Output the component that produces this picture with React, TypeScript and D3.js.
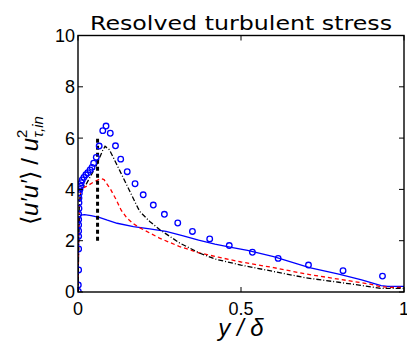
import React from 'react';
import * as d3 from 'd3';

const xTicks = [0, 0.5, 1];
const xTickLabels = ['0', '0.5', '1'];
const yTicks = [0, 2, 4, 6, 8, 10];
const yTickLabels = ['0', '2', '4', '6', '8', '10'];

const titleText = 'Resolved turbulent stress';

// DNS reference (blue circles)
const circleX = [0.001, 0.001, 0.002, 0.002, 0.002, 0.002, 0.002, 0.002, 0.002, 0.003, 0.003, 0.003, 0.004, 0.006, 0.008, 0.010, 0.013, 0.018, 0.024, 0.030, 0.037, 0.043, 0.048, 0.056, 0.065, 0.076, 0.086, 0.099, 0.115, 0.131, 0.151, 0.175, 0.200, 0.231, 0.265, 0.306, 0.351, 0.404, 0.464, 0.535, 0.614, 0.707, 0.813, 0.934];
const circleY = [0.02, 0.27, 0.86, 1.68, 2.17, 2.38, 2.61, 2.83, 3.03, 3.26, 3.48, 3.66, 3.85, 4.0, 4.13, 4.26, 4.37, 4.47, 4.57, 4.65, 4.76, 4.86, 5.02, 5.25, 5.69, 6.29, 6.47, 6.19, 5.70, 5.18, 4.69, 4.22, 3.79, 3.39, 3.03, 2.69, 2.36, 2.07, 1.81, 1.55, 1.31, 1.05, 0.83, 0.62];

// blue solid
const blueX = [0, 0.001, 0.002, 0.004, 0.008, 0.02, 0.04, 0.065, 0.09, 0.12, 0.17, 0.22, 0.27, 0.32, 0.37, 0.42, 0.47, 0.52, 0.6, 0.71, 0.8, 0.87, 0.93, 0.95, 1.0];
const blueY = [0, 0.9, 2.0, 2.8, 3.0, 3.02, 2.98, 2.91, 2.8, 2.68, 2.55, 2.46, 2.36, 2.2, 2.02, 1.87, 1.74, 1.62, 1.38, 0.95, 0.7, 0.47, 0.25, 0.22, 0.22];

// red dashed
const redX = [0, 0.001, 0.002, 0.004, 0.008, 0.015, 0.03, 0.05, 0.07, 0.08, 0.1, 0.117, 0.132, 0.15, 0.17, 0.19, 0.25, 0.31, 0.37, 0.43, 0.5, 0.6, 0.7, 0.8, 0.9, 0.93, 0.96, 1.0];
const redY = [0, 0.9, 2.0, 3.3, 3.9, 4.05, 4.15, 4.3, 4.42, 4.38, 4.0, 3.6, 3.2, 2.88, 2.66, 2.5, 2.1, 1.78, 1.53, 1.36, 1.17, 0.95, 0.7, 0.5, 0.3, 0.2, 0.18, 0.18];

// black dash-dot
const blackX = [0, 0.001, 0.002, 0.004, 0.008, 0.015, 0.025, 0.055, 0.075, 0.083, 0.096, 0.11, 0.127, 0.157, 0.183, 0.19, 0.22, 0.252, 0.313, 0.374, 0.425, 0.5, 0.6, 0.7, 0.8, 0.9, 0.93, 1.0];
const blackY = [0, 0.9, 2.0, 3.3, 3.95, 4.1, 4.2, 4.9, 5.5, 5.68, 5.55, 5.2, 4.76, 3.98, 3.3, 3.13, 2.75, 2.42, 1.9, 1.51, 1.27, 1.05, 0.8, 0.55, 0.38, 0.2, 0.14, 0.14];

// thick vertical dotted marker
const markX = [0.06, 0.06];
const markY = [2, 6];

const zip = (a: number[], b: number[]): [number, number][] => a.map((v, i) => [v, b[i]]);

export default function App() {
  const W = 407, H = 347;
  const x = d3.scaleLinear().domain([0, 1]).range([78, 404]);
  const y = d3.scaleLinear().domain([0, 10]).range([292, 35.5]);
  const line = d3.line<[number, number]>().x(d => x(d[0])).y(d => y(d[1]));
  const tickFont = '"Liberation Sans", Arial, sans-serif';

  return (
    <svg width={W} height={H} style={{ position: 'absolute', left: 0, top: 0, background: '#fff' }}>
      <rect x={0} y={0} width={W} height={H} fill="#fff" />
      <defs>
        <clipPath id="plotclip">
          <rect x={x(0)} y={y(10)} width={x(1) - x(0)} height={y(0) - y(10)} />
        </clipPath>
      </defs>
      <g clipPath="url(#plotclip)">
        <path d={line(zip(blueX, blueY)) || ''} fill="none" stroke="#0000ff" strokeWidth={1.3} />
        <path d={line(zip(redX, redY)) || ''} fill="none" stroke="#ff0000" strokeWidth={1.3} strokeDasharray="4,3" />
        <path d={line(zip(blackX, blackY)) || ''} fill="none" stroke="#000" strokeWidth={1.3} strokeDasharray="5,2,1,2" />
        <path d={line(zip(markX, markY)) || ''} fill="none" stroke="#000" strokeWidth={3} strokeDasharray="4,3" />
        {circleX.map((cx, i) => (
          <circle key={i} cx={x(cx)} cy={y(circleY[i])} r={2.8} fill="none" stroke="#0000ff" strokeWidth={1.3} />
        ))}
      </g>
      {/* box */}
      <rect x={x(0)} y={y(10)} width={x(1) - x(0)} height={y(0) - y(10)} fill="none" stroke="#000" strokeWidth={1.4} />
      {/* ticks */}
      {yTicks.map((t, i) => (
        <g key={'y' + i}>
          <line x1={x(0)} x2={x(0) + 5} y1={y(t)} y2={y(t)} stroke="#000" strokeWidth={1} />
          <line x1={x(1)} x2={x(1) - 5} y1={y(t)} y2={y(t)} stroke="#000" strokeWidth={1} />
          <text x={x(0) - 3} y={y(t)} dy="0.36em" textAnchor="end" fontFamily={tickFont} fontSize={18}>{yTickLabels[i]}</text>
        </g>
      ))}
      {xTicks.map((t, i) => (
        <g key={'x' + i}>
          <line x1={x(t)} x2={x(t)} y1={y(0)} y2={y(0) - 5} stroke="#000" strokeWidth={1} />
          <line x1={x(t)} x2={x(t)} y1={y(10)} y2={y(10) + 5} stroke="#000" strokeWidth={1} />
          <text x={x(t)} y={315} textAnchor="middle" fontFamily={tickFont} fontSize={18}>{xTickLabels[i]}</text>
        </g>
      ))}
      {/* title */}
      <text x={241} y={29.5} textAnchor="middle" fontFamily='"DejaVu Sans", sans-serif' fontSize={20} textLength={302} lengthAdjust="spacingAndGlyphs">{titleText}</text>
      {/* x label */}
      <text x={241} y={336} textAnchor="middle" fontFamily={tickFont} fontSize={24} fontStyle="italic">y / δ</text>
      {/* y label */}
      <text transform="translate(38,225) rotate(-90)" fontFamily={tickFont} fontSize={24}>
        <tspan>⟨</tspan>
        <tspan fontStyle="italic">u′u′</tspan>
        <tspan>⟩ / </tspan>
        <tspan fontStyle="italic">u</tspan>
        <tspan fontSize={15} dy={-11}>2</tspan>
        <tspan fontSize={15} fontStyle="italic" dx={-8} dy={16}>τ,in</tspan>
      </text>
    </svg>
  );
}
